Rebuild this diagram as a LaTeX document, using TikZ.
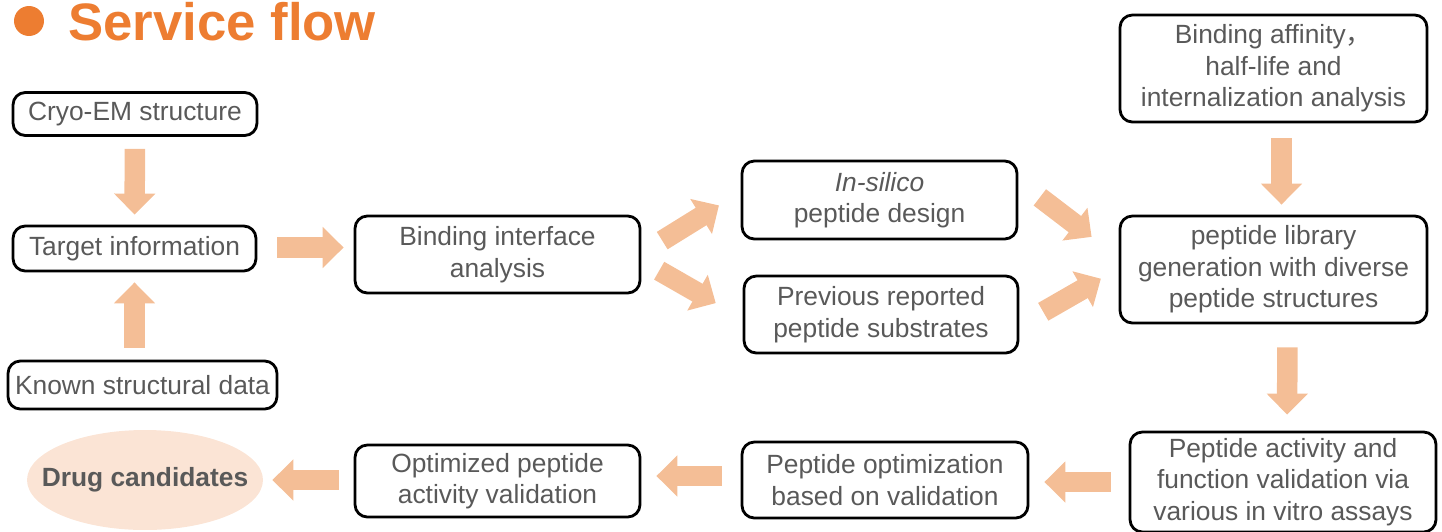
\documentclass[tikz,border=0pt]{standalone}
\usepackage{fontspec}
\setmainfont{Liberation Sans}
\newfontfamily\cjk{Noto Sans CJK SC}
\usetikzlibrary{arrows.meta,calc,shapes.geometric}
\definecolor{peach}{HTML}{F4BE96}
\definecolor{titleorange}{HTML}{ED7D31}
\definecolor{textgray}{HTML}{595959}
\definecolor{drugfill}{HTML}{FBE4D5}
\tikzset{
  box/.style={draw, line width=1.6pt, rounded corners=7pt, align=center,
    inner sep=0pt, text=textgray, font=\fontsize{15pt}{18pt}\selectfont},
  fat/.style={draw=peach, line width=0.41cm,
    -{Triangle[width=0.8cm,length=0.42cm]}}
}
\begin{document}
\begin{tikzpicture}[x=0.02cm,y=-0.02cm]
      \useasboundingbox (0,0) rectangle (1442,531);
      \node[circle, fill=titleorange, minimum size=0.6cm, inner sep=0pt] (dot) at (29,21) {};
      \node[anchor=west, inner sep=0pt, text=titleorange, font=\fontsize{30pt}{32pt}\selectfont\bfseries] (title) at (68,22) {Service flow};
      \node[box, minimum width=4.88cm, minimum height=0.86cm] (cryo) at (135,114) {Cryo-EM structure};
      \node[box, minimum width=4.86cm, minimum height=0.9cm] (target) at (134.5,248.5) {Target information};
      \node[box, minimum width=5.38cm, minimum height=0.96cm] (known) at (142.5,385) {Known structural data};
      \node[box, minimum width=5.7cm, minimum height=1.54cm] (bind) at (497.5,254.5) {Binding interface\\analysis};
      \node[box, minimum width=5.5cm, minimum height=1.56cm] (insilico) at (879.5,200) {\textit{In-silico}\\peptide design};
      \node[box, minimum width=5.48cm, minimum height=1.54cm] (prev) at (881,314.5) {Previous reported\\peptide substrates};
      \node[box, minimum width=6.14cm, minimum height=2.14cm] (affinity) at (1273.5,68.5) {Binding affinity{\cjk ，}\\half-life and\\internalization analysis};
      \node[box, minimum width=6.14cm, minimum height=2.14cm] (library) at (1273.5,269.5) {peptide library\\generation with diverse\\peptide structures};
      \node[box, minimum width=6.12cm, minimum height=2.0cm] (activity) at (1283,482) {Peptide activity and\\function validation via\\various in vitro assays};
      \node[box, minimum width=5.72cm, minimum height=1.52cm] (opt) at (885,480) {Peptide optimization\\based on validation};
      \node[box, minimum width=5.7cm, minimum height=1.44cm] (optimized) at (497.5,481) {Optimized peptide\\activity validation};
      \node[ellipse, fill=drugfill, minimum width=4.72cm, minimum height=2.0cm, inner sep=0pt,
        text=textgray, font=\fontsize{15pt}{18pt}\selectfont\bfseries] (drug) at (145,480) {\makebox[0pt]{Drug candidates}};
      \begin{scope}[fat]
        \draw[shorten <=0.24cm, shorten >=0.2cm] (cryo.south) -- (target.north);
        \draw[shorten <=0.24cm, shorten >=0.2cm] (target.south |- known.north) -- (target.south);
        \draw[shorten <=0.4cm, shorten >=0.2cm] ($(target.east)+(0,-1)$) -- ($(target.east -| bind.west)+(0,-1)$);
        \draw[shorten <=0.49cm, shorten >=0.51cm] ($(bind.east)+(0,-1)$) -- ($(insilico.west)+(0,-8)$);
        \draw[shorten <=0.41cm, shorten >=0.62cm] ($(bind.east)+(0,6)$) -- ($(prev.west)+(0,4)$);
        \draw[shorten <=0.54cm, shorten >=0.68cm] ($(insilico.east)+(0,-19)$) -- ($(library.west)+(0,-12)$);
        \draw[shorten <=0.55cm, shorten >=0.41cm] ($(prev.east)+(0,11)$) -- ($(library.west)+(0,-1)$);
        \draw[shorten <=0.3cm, shorten >=0.2cm] ($(affinity.south)+(8,0)$) -- ($(library.north)+(8,0)$);
        \draw[shorten <=0.46cm, shorten >=0.32cm] ($(library.south)+(14,0)$) -- ($(activity.north)+(4,0)$);
        \draw[shorten <=0.36cm, shorten >=0.3cm] (activity.west) -- (activity.west -| opt.east);
        \draw[shorten <=0.38cm, shorten >=0.3cm] ($(opt.west)+(0,-4)$) -- ($(opt.west -| optimized.east)+(0,-4)$);
        \draw[shorten <=0.3cm, shorten >=0.18cm] ($(optimized.west)+(0,-1)$) -- ($(optimized.west -| drug.east)+(0,-1)$);
      \end{scope}
    \end{tikzpicture}
\end{document}
